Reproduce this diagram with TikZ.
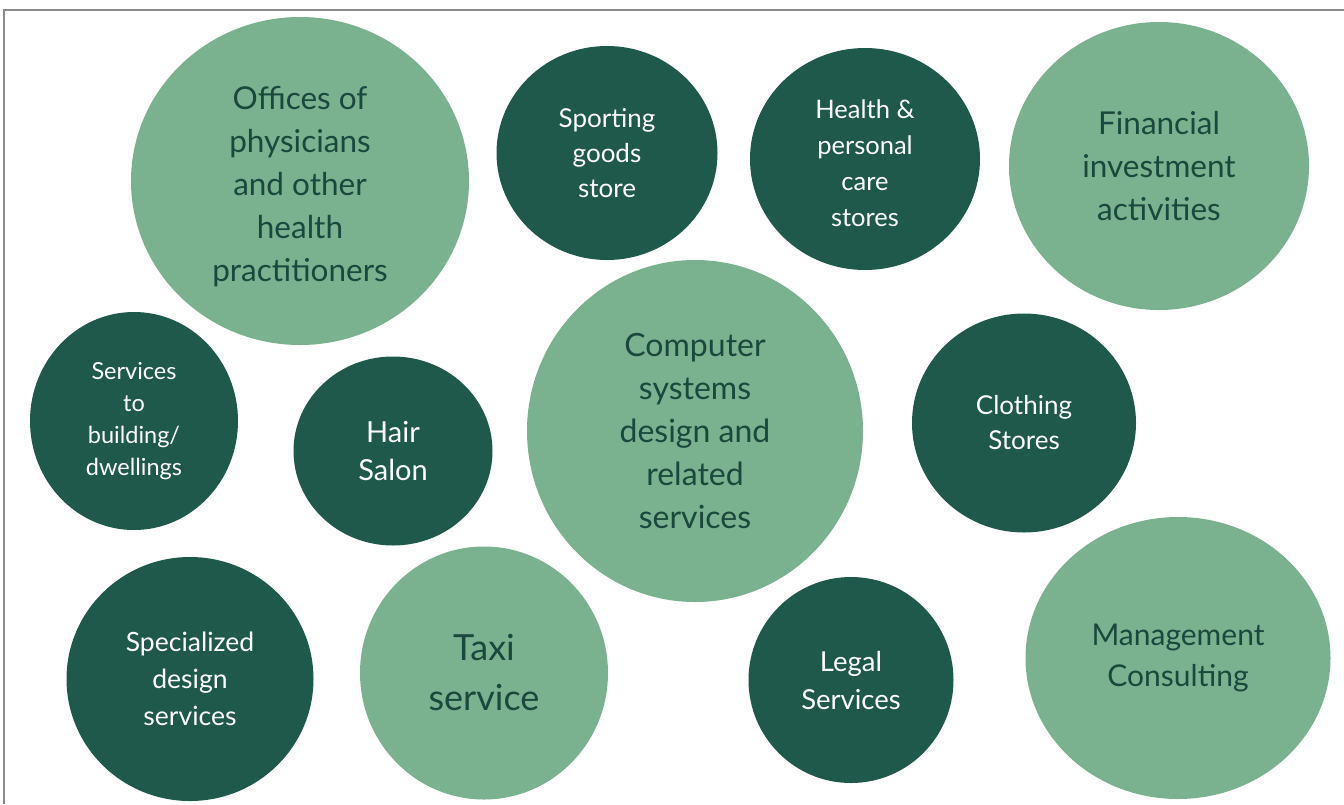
\documentclass[tikz,border=0pt]{standalone}
\usepackage{fontspec}
\setmainfont{Lato}
\usetikzlibrary{shapes.geometric}
\definecolor{deepgreen}{HTML}{1F594C}
\definecolor{sagegreen}{HTML}{7AB28F}
\definecolor{inkgreen}{HTML}{1A483C}
\definecolor{framegray}{HTML}{8A8A8A}
\begin{document}
\begin{tikzpicture}[x=1pt,y=-1pt,
  bubble/.style 2 args={ellipse, inner sep=0pt, minimum width=#1pt, minimum height=#2pt, align=center},
  darkbub/.style={fill=deepgreen, text=white},
  lightbub/.style={fill=sagegreen, text=inkgreen},
  fs/.style 2 args={font=\fontsize{#1}{#2}\selectfont}]
\useasboundingbox (0,0) rectangle (1344,804);
\fill[white] (0,0) rectangle (1344,804);
% frame
\draw[framegray, line width=2pt] (4,804) -- (4,10) -- (1344,10);

% top row
\node[bubble={338}{328}, lightbub] (phys) at (300,181) {};
\node[align=center, text=inkgreen, fs={31.5}{43}, yshift=-6pt] (phys-t) at (phys)
  {Offices of\\physicians\\and other\\health\\practitioners};
\node[bubble={221}{214}, darkbub, fs={26}{35}] (sport) at (607,153)
  {Sporting\\goods\\store};
\node[bubble={230}{222}, darkbub] (hpc) at (865,159) {};
\node[align=center, text=white, fs={25.5}{36}, yshift=-4pt] (hpc-t) at (hpc)
  {Health \&\\personal\\care\\stores};
\node[bubble={300}{288}, lightbub, fs={31.5}{43}] (fin) at (1159,166)
  {Financial\\investment\\activities};

% middle row
\node[bubble={208}{218}, darkbub, fs={23.5}{32}] (bldg) at (134,421)
  {Services\\to\\building/\\dwellings};
\node[bubble={199}{189}, darkbub, fs={29}{38}] (hair) at (393,451)
  {Hair\\Salon};
\node[bubble={336}{342}, lightbub, fs={32}{43}] (comp) at (695,431)
  {Computer\\systems\\design and\\related\\services};
\node[bubble={224}{219}, darkbub, fs={26}{35}] (cloth) at (1024,423)
  {Clothing\\Stores};

% bottom row
\node[bubble={247}{244}, darkbub, fs={26.5}{37}] (spec) at (190,679)
  {Specialized\\design\\services};
\node[bubble={248}{253}, lightbub, fs={36}{50}] (taxi) at (484,673)
  {Taxi\\service};
\node[bubble={205}{206}, darkbub, fs={27.5}{38}] (legal) at (851,680)
  {Legal\\Services};
\node[bubble={305}{282}, lightbub, fs={30}{41}] (mgmt) at (1178,658)
  {Management\\Consulting};
\end{tikzpicture}
\end{document}
